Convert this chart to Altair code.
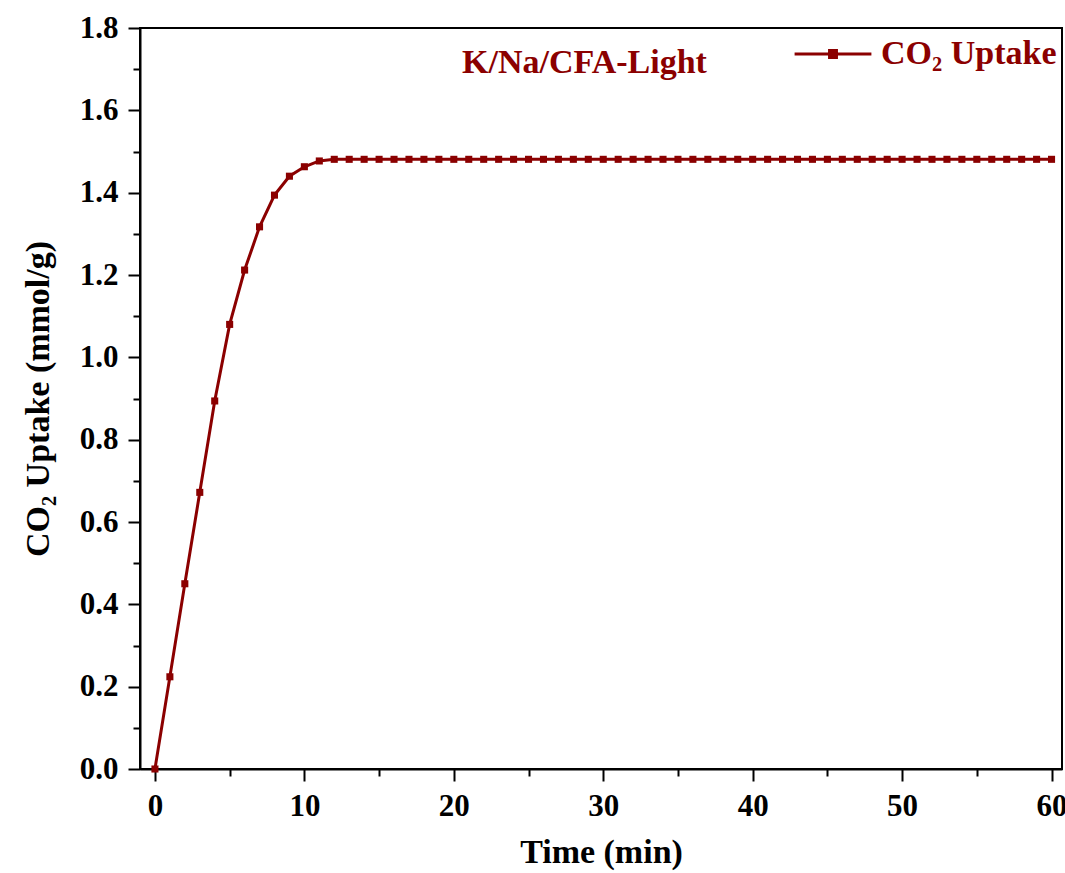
import altair as alt
import pandas as pd

time_min = list(range(0, 61))
uptake = [0.0, 0.224, 0.450, 0.672, 0.894, 1.080, 1.212, 1.317, 1.394, 1.440, 1.463, 1.477] + [1.481] * 49
series = ["CO₂ Uptake"] * len(time_min)
annotation = ["K/Na/CFA-Light"]

df = pd.DataFrame({"Time": time_min, "Uptake": uptake, "Series": series})
df_note = pd.DataFrame({"label": annotation})

RED = "#8b0000"
FONT = "Liberation Serif"

x = alt.X("Time:Q", scale=alt.Scale(domain=[-1, 60.7], nice=False, zero=False),
          axis=alt.Axis(title="Time (min)", values=list(range(0, 61, 5)),
                        labelExpr="datum.value % 10 === 0 ? datum.label : ''",
                        tickSize={"condition": {"test": "datum.value % 10 === 0", "value": 12}, "value": 7},
                        labelPadding=10, titlePadding=14))
y = alt.Y("Uptake:Q", scale=alt.Scale(domain=[0, 1.8], nice=False),
          axis=alt.Axis(title="CO₂ Uptake (mmol/g)", values=[round(v * 0.1, 1) for v in range(0, 19)],
                        labelExpr="round(datum.value*10) % 2 === 0 ? format(datum.value, '.1f') : ''",
                        tickSize={"condition": {"test": "round(datum.value*10) % 2 === 0", "value": 12}, "value": 7},
                        labelPadding=10, titlePadding=24))

color = alt.Color("Series:N", scale=alt.Scale(range=[RED]),
                  legend=alt.Legend(title=None, orient="none", legendX=653, legendY=-14,
                                    symbolType="M-1,0 L1,0 M-0.09,-0.09 L0.09,-0.09 L0.09,0.09 L-0.09,0.09 Z",
                                    symbolSize=5900, symbolStrokeWidth=3, symbolFillColor=RED,
                                    symbolStrokeColor=RED, labelFont=FONT, labelFontSize=34,
                                    labelFontWeight="bold", labelColor=RED, labelOffset=8,
                                    labelLimit=400, padding=0))

line = alt.Chart(df).mark_line(strokeWidth=3).encode(x=x, y=y, color=color)
pts = alt.Chart(df).mark_point(shape="square", filled=True, size=50, opacity=1).encode(
    x="Time:Q", y="Uptake:Q", color=alt.Color("Series:N", legend=None))
note = alt.Chart(df_note).mark_text(font=FONT, fontSize=34, fontWeight="bold", color=RED,
                                    align="left", baseline="alphabetic").encode(
    x=alt.value(322), y=alt.value(45), text="label:N")

chart = alt.layer(line, pts, note).properties(
    width=922, height=741,
    padding={"left": 140, "top": 28, "right": 3, "bottom": 104},
    autosize=alt.AutoSizeParams(type="none"),
    background="white",
).configure_view(stroke="black", strokeWidth=2).configure_axis(
    labelFont=FONT, labelFontSize=31, labelFontWeight="bold", labelColor="black",
    titleFont=FONT, titleFontSize=34, titleFontWeight="bold", titleColor="black",
    domainColor="black", domainWidth=2, tickColor="black", tickWidth=2, grid=False,
)

chart.save("out.html", embed_options={"renderer": "svg", "actions": False})
